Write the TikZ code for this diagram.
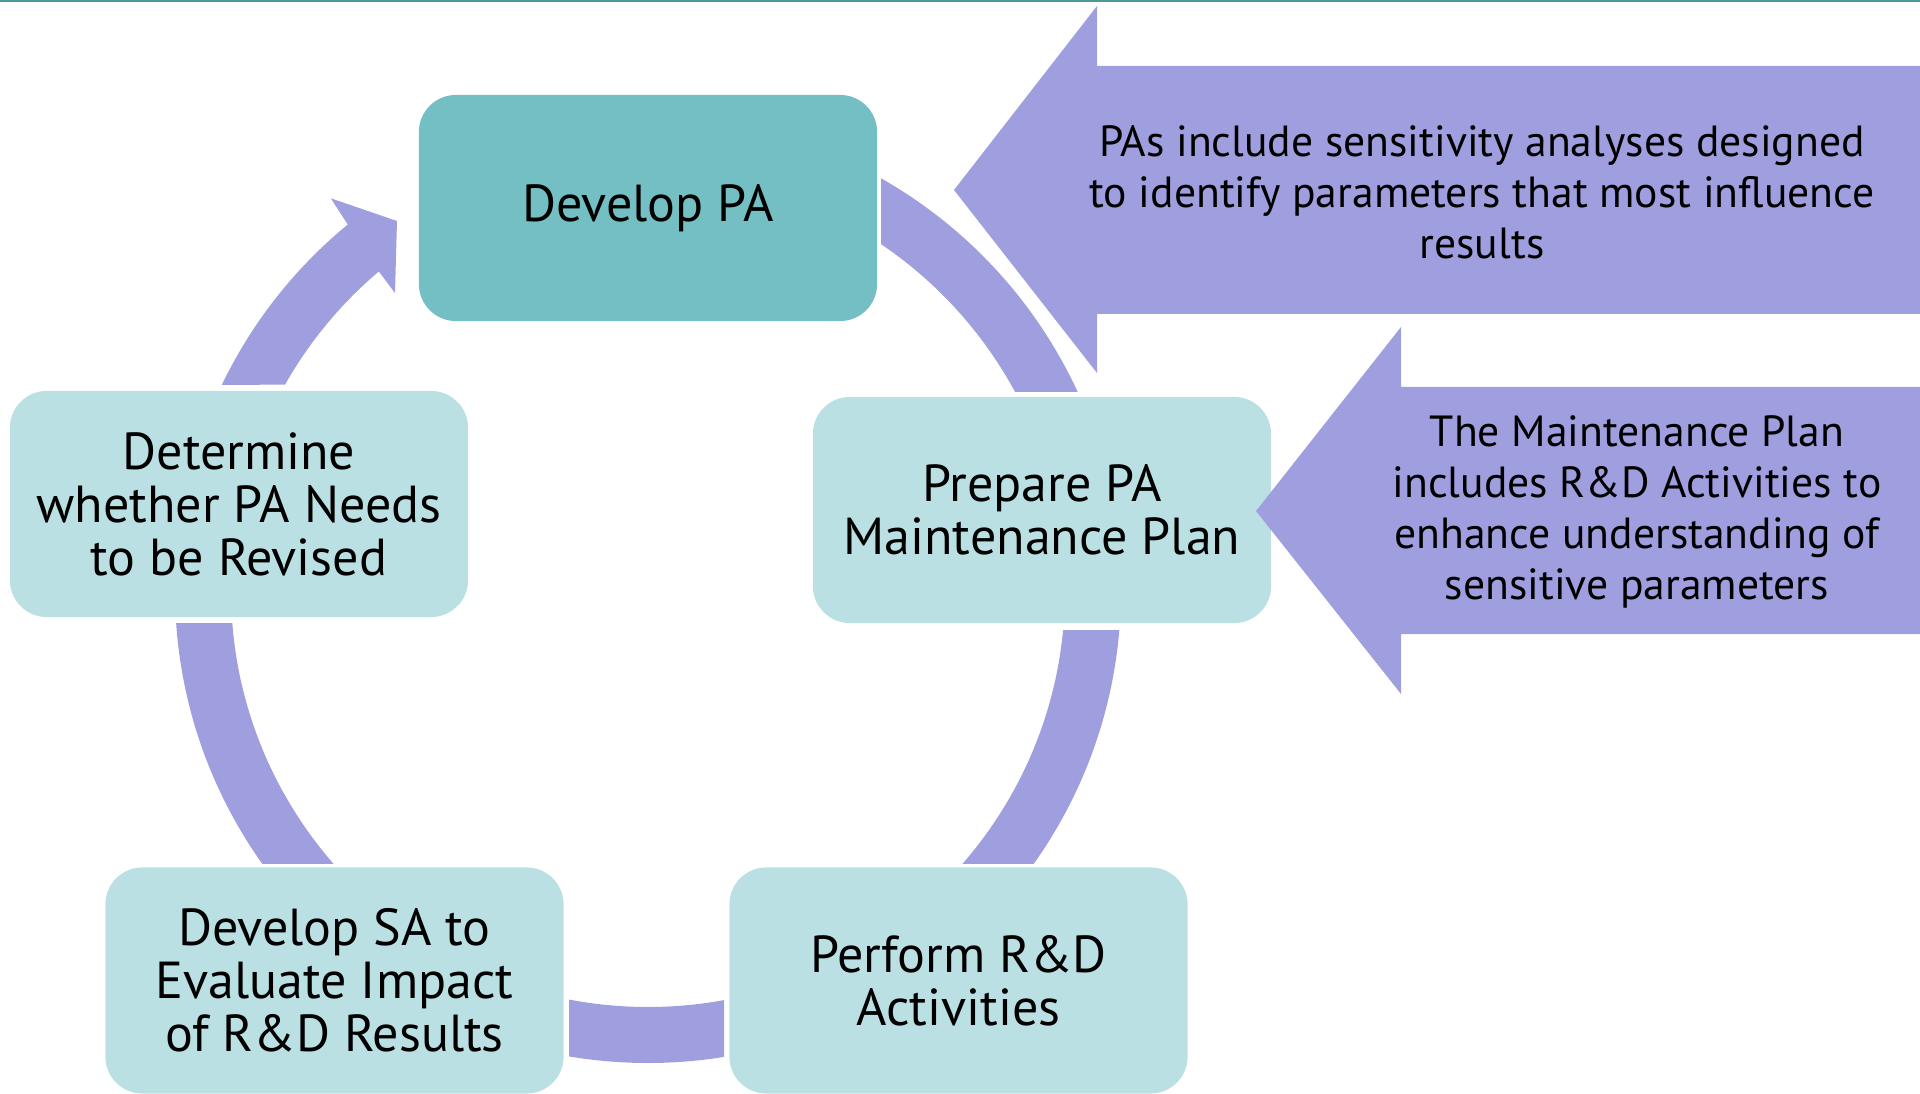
\documentclass[tikz,border=0pt]{standalone}
\usepackage{fontspec}
\setmainfont{PT Sans}
\definecolor{lav}{HTML}{9F9EDE}
\definecolor{tealbox}{HTML}{74BFC4}
\definecolor{palebox}{HTML}{BBE0E3}
\definecolor{topline}{HTML}{4E9896}

\begin{document}
\begin{tikzpicture}[x=0.01cm,y=-0.01cm,
        ring/.style={fill=lav},
        note/.style={align=center,inner sep=0pt,font=\fontsize{12.4}{14.5}\selectfont}]
        \useasboundingbox (0,0) rectangle (1920,1094);
        \draw[topline,line width=0.6pt] (0,1) -- (1920,1);

        \coordinate (hub) at (648,590);

        % cycle arrows, cut back from the boxes
        \foreach \xa/\ya/\xb/\yb in {881/0/1300/392, 648/630/1300/863, 569/900/724/1094, 0/623/648/863} {
            \begin{scope}
                \clip (\xa,\ya) rectangle (\xb,\yb);
                \fill[ring,even odd rule] (hub) circle[radius=473] (hub) circle[radius=417];
            \end{scope}
        }
        \fill[ring] (hub) ++(-154.3:473) arc[start angle=-154.3, end angle=-129.4, radius=473]
            -- (330.8,198.3) -- (397,221) -- (395,293)
            -- (378.8,271.5) arc[start angle=-130.2, end angle=-150.5, radius=417] -- cycle;

        \begin{scope}[every node/.style={rounded corners=0.37cm,fill=palebox,
                        minimum width=4.58cm,minimum height=2.26cm,inner sep=0pt,
                        align=center,font=\fontsize{14.8}{15.1}\selectfont}]
            \node (devpa) at (648,208) [fill=tealbox] {Develop PA};
            \node (prep) at (1042,510) {Prepare PA\\Maintenance Plan};
            \node (rnd) at (958.5,980.5) {Perform R\&D\\Activities};
            \node (devsa) at (334.5,980.5) {Develop SA to\\Evaluate Impact\\of R\&D Results};
            \node (revise) at (239,504) {Determine\\whether PA Needs\\to be Revised};
        \end{scope}

        % side notes
        \fill[ring] (954,190) -- (1097,6) -- (1097,66) -- (1920,66) -- (1920,314)
            -- (1097,314) -- (1097,373) -- cycle;
        \fill[ring] (1256,511) -- (1401,327) -- (1401,387) -- (1920,387) -- (1920,634)
            -- (1401,634) -- (1401,694) -- cycle;
        \node (notepa) at (1482,192) [note] {PAs include sensitivity analyses designed\\to identify parameters that most influence\\results};
        \node (noteplan) at (1637,512) [note] {The Maintenance Plan\\includes R\&D Activities to\\enhance understanding of\\sensitive parameters};
    \end{tikzpicture}
\end{document}
